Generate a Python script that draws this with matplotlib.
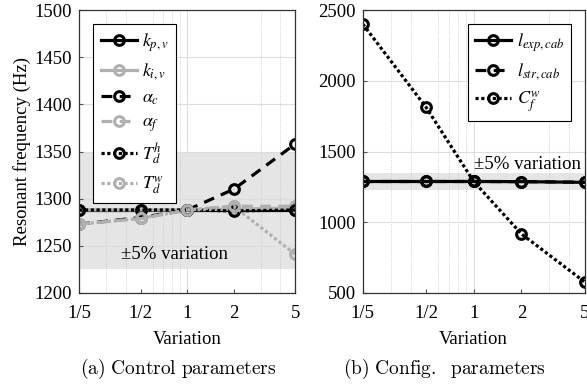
import matplotlib
matplotlib.use('Agg')
import matplotlib.pyplot as plt
from matplotlib.ticker import FixedLocator, NullFormatter

plt.rcParams['font.family'] = 'Liberation Serif'
plt.rcParams['mathtext.fontset'] = 'stix'

variation = [0.2, 0.5, 1, 2, 5]
xticklabels = ['1/5', '1/2', '1', '2', '5']

# (a) control parameters
k_pv = [1288, 1288, 1288, 1288, 1288]
k_iv = [1288, 1288, 1288, 1289, 1290]
alpha_c = [1273, 1280, 1288, 1310, 1358]
alpha_f = [1273, 1279, 1288, 1292, 1292]
Td_h = [1288, 1288, 1288, 1287, 1288]
Td_w = [1273, 1279, 1288, 1292, 1241]

# (b) config parameters
l_exp = [1288, 1288, 1288, 1287, 1282]
l_str = [1288, 1288, 1288, 1287, 1283]
Cf_w = [2401, 1814, 1288, 917, 578]

band = [1225, 1350]

fig = plt.figure(figsize=(5.87, 3.87), dpi=100)
ax1 = fig.add_axes([0.135, 0.243, 0.368, 0.731])
ax2 = fig.add_axes([0.618, 0.243, 0.378, 0.731])

gray = '#b0b0b0'
mk = dict(marker='o', ms=7, mfc='none', mew=2.2, lw=2.3)
dash = (0, (3.4, 2.3))
dot = (0, (1, 0.8))


def style(ax):
    ax.set_xscale('log')
    ax.set_xlim(0.2, 5)
    ax.xaxis.set_major_locator(FixedLocator(variation))
    ax.set_xticklabels(xticklabels)
    minors = [0.3, 0.4, 0.5, 0.6, 0.7, 0.8, 0.9, 2, 3, 4]
    ax.xaxis.set_minor_locator(FixedLocator(minors))
    ax.xaxis.set_minor_formatter(NullFormatter())
    ax.grid(True, which='major', axis='y', color='#dddddd', lw=0.8)
    ax.axvline(1, color='#dddddd', lw=0.8, zorder=0)
    ax.grid(True, which='minor', axis='x', color='#c4c4c4', lw=0.6, ls=':')
    ax.tick_params(which='both', direction='in', length=3, labelsize=13.5,
                   color='#555555', pad=5)
    ax.tick_params(axis='x', pad=9)
    ax.tick_params(which='minor', length=0)
    for s in ax.spines.values():
        s.set_color('#333333')
        s.set_linewidth(0.9)
    ax.set_xlabel('Variation', fontsize=13.5, labelpad=6)
    ax.set_axisbelow(True)


style(ax1)
ax1.axhspan(*band, color='#e5e5e5', zorder=0, lw=0)
ax1.plot(variation, k_pv, color='black', ls='-', label='$k_{p,v}$', **mk)
ax1.plot(variation, k_iv, color=gray, ls='-', label='$k_{i,v}$', **mk)
ax1.plot(variation, alpha_c, color='black', ls=dash, label=r'$\alpha_c$', **mk)
ax1.plot(variation, alpha_f, color=gray, ls=dash, label=r'$\alpha_f$', **mk)
ax1.plot(variation, Td_h, color='black', ls=dot, label='$T_d^h$', **mk)
ax1.plot(variation, Td_w, color=gray, ls=dot, label='$T_d^w$', **mk)
ax1.set_ylim(1200, 1500)
ax1.set_yticks(range(1200, 1501, 50))
ax1.set_ylabel('Resonant frequency (Hz)', fontsize=13.5, labelpad=3)
ax1.text(0.37, 1241, '±5% variation', fontsize=13.5, va='center')
leg = ax1.legend(loc='upper left', bbox_to_anchor=(0.065, 0.95), fontsize=13,
                 fancybox=False, edgecolor='black', handlelength=2.0,
                 labelspacing=0.4, borderpad=0.4, handletextpad=0.3,
                 borderaxespad=0, framealpha=1)
leg.get_frame().set_linewidth(0.8)

style(ax2)
ax2.axhspan(*band, color='#e5e5e5', zorder=0, lw=0)
ax2.plot(variation, l_exp, color='black', ls='-', label='$l_{exp,cab}$', **mk)
ax2.plot(variation, l_str, color='black', ls=dash, label='$l_{str,cab}$', **mk)
ax2.plot(variation, Cf_w, color='black', ls=dot, label='$C_f^w$', **mk)
ax2.set_ylim(500, 2500)
ax2.set_yticks(range(500, 2501, 500))
ax2.text(1.01, 1405, '±5% variation', fontsize=13.5, va='center')
leg2 = ax2.legend(loc='upper right', bbox_to_anchor=(0.94, 0.95), fontsize=13,
                  fancybox=False, edgecolor='black', handlelength=2.0,
                  labelspacing=0.4, borderpad=0.4, handletextpad=0.3,
                  borderaxespad=0, framealpha=1)
leg2.get_frame().set_linewidth(0.8)

fig.text(0.136, 0.035, r'$\mathrm{(a)\ Control\ parameters}$', ha='left',
         fontsize=14, math_fontfamily='cm')
fig.text(0.584, 0.035, r'$\mathrm{(b)\ Config.\ \ parameters}$', ha='left',
         fontsize=14, math_fontfamily='cm')

fig.savefig('out.png', dpi=100)
